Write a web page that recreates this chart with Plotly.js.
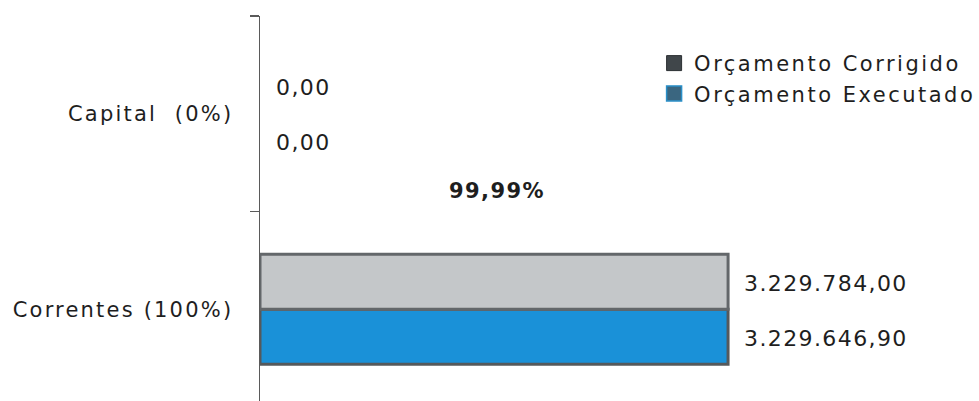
<!DOCTYPE html>
<html>
<head>
<meta charset="utf-8">
<script src="https://cdn.plot.ly/plotly-3.0.1.min.js"></script>
<style>
  html, body { margin: 0; padding: 0; background: #fff; }
  #chart { width: 979px; height: 401px; }
  .legendtext { letter-spacing: 2.5px; }
  .ytick text { letter-spacing: 2.2px; }
  .annotation-text { letter-spacing: 1.4px; }
</style>
</head>
<body>
<div id="chart"></div>
<script>
// ---- data ----
const categories = ["Correntes (100%)", "Capital  (0%)"];
const seriesNames = ["Orçamento Corrigido", "Orçamento Executado"];
const corrigido = [3229784.00, 0.00];
const executado = [3229646.90, 0.00];
const percentLabel = "99,99%";

// ---- styles ----
const FONT = "DejaVu Sans";
const textColor = "#1e1e1e";

const fmt = v => v.toLocaleString("pt-BR", {minimumFractionDigits: 2, maximumFractionDigits: 2});
const lineW = vals => vals.map(v => (v > 0 ? 3 : 0));

// Executado drawn first so it sits below Corrigido in horizontal grouped bars
const traces = [
  {
    type: "bar", orientation: "h", name: seriesNames[1], showlegend: false,
    y: categories, x: executado,
    marker: {color: "#1a91d8", line: {color: "#55595c", width: lineW(executado)}},
    hoverinfo: "none"
  },
  {
    type: "bar", orientation: "h", name: seriesNames[0], showlegend: false,
    y: categories, x: corrigido,
    marker: {color: "#c4c7c9", line: {color: "#63676a", width: lineW(corrigido)}},
    hoverinfo: "none"
  },
  // legend-only entries (dark swatches as in the original)
  {
    type: "scatter", mode: "markers", name: seriesNames[0], x: [null], y: [null],
    marker: {symbol: "square", size: 15, color: "#40464a", line: {color: "#2c3033", width: 1}},
    hoverinfo: "none"
  },
  {
    type: "scatter", mode: "markers", name: seriesNames[1], x: [null], y: [null],
    marker: {symbol: "square", size: 15, color: "#3a6680", line: {color: "#2a8fc8", width: 1.5}},
    hoverinfo: "none"
  }
];

const annotations = [];
categories.forEach((c, j) => {
  annotations.push({x: corrigido[j], y: c, xref: "x", yref: "y", text: fmt(corrigido[j]),
    showarrow: false, xanchor: "left", xshift: 14, yshift: 26,
    font: {family: FONT, size: 22, color: textColor}});
  annotations.push({x: executado[j], y: c, xref: "x", yref: "y", text: fmt(executado[j]),
    showarrow: false, xanchor: "left", xshift: 14, yshift: -29,
    font: {family: FONT, size: 22, color: textColor}});
});
annotations.push({x: 0.339, y: 0.545, xref: "paper", yref: "paper", text: percentLabel,
  showarrow: false, xanchor: "center", yanchor: "middle",
  font: {family: FONT, size: 21, color: textColor, weight: "bold"}});

const layout = {
  width: 979, height: 401,
  margin: {l: 260, r: 19, t: 16, b: 0, autoexpand: false},
  paper_bgcolor: "#ffffff", plot_bgcolor: "#ffffff",
  separators: ",.",
  barmode: "group", bargap: 0.437, bargroupgap: 0,
  showlegend: true,
  legend: {
    x: 0.563, xanchor: "left", y: 0.93, yanchor: "top",
    traceorder: "normal",
    font: {family: FONT, size: 21, color: textColor},
    bgcolor: "rgba(0,0,0,0)", itemwidth: 30, tracegroupgap: 0
  },
  xaxis: {visible: false, range: [0, 4830000], fixedrange: true},
  yaxis: {
    type: "category", range: [-0.47, 1.5],
    showline: true, linecolor: "#5a5a5a", linewidth: 1.5,
    ticks: "outside", tickson: "boundaries", ticklen: 9, tickcolor: "#5a5a5a", tickwidth: 1.5,
    ticklabelstandoff: 21,
    showgrid: false, zeroline: false,
    tickfont: {family: FONT, size: 21, color: textColor},
    fixedrange: true
  },
  annotations: annotations,
  font: {family: FONT, color: textColor}
};

Plotly.newPlot("chart", traces, layout, {displayModeBar: false, staticPlot: true});
</script>
</body>
</html>
